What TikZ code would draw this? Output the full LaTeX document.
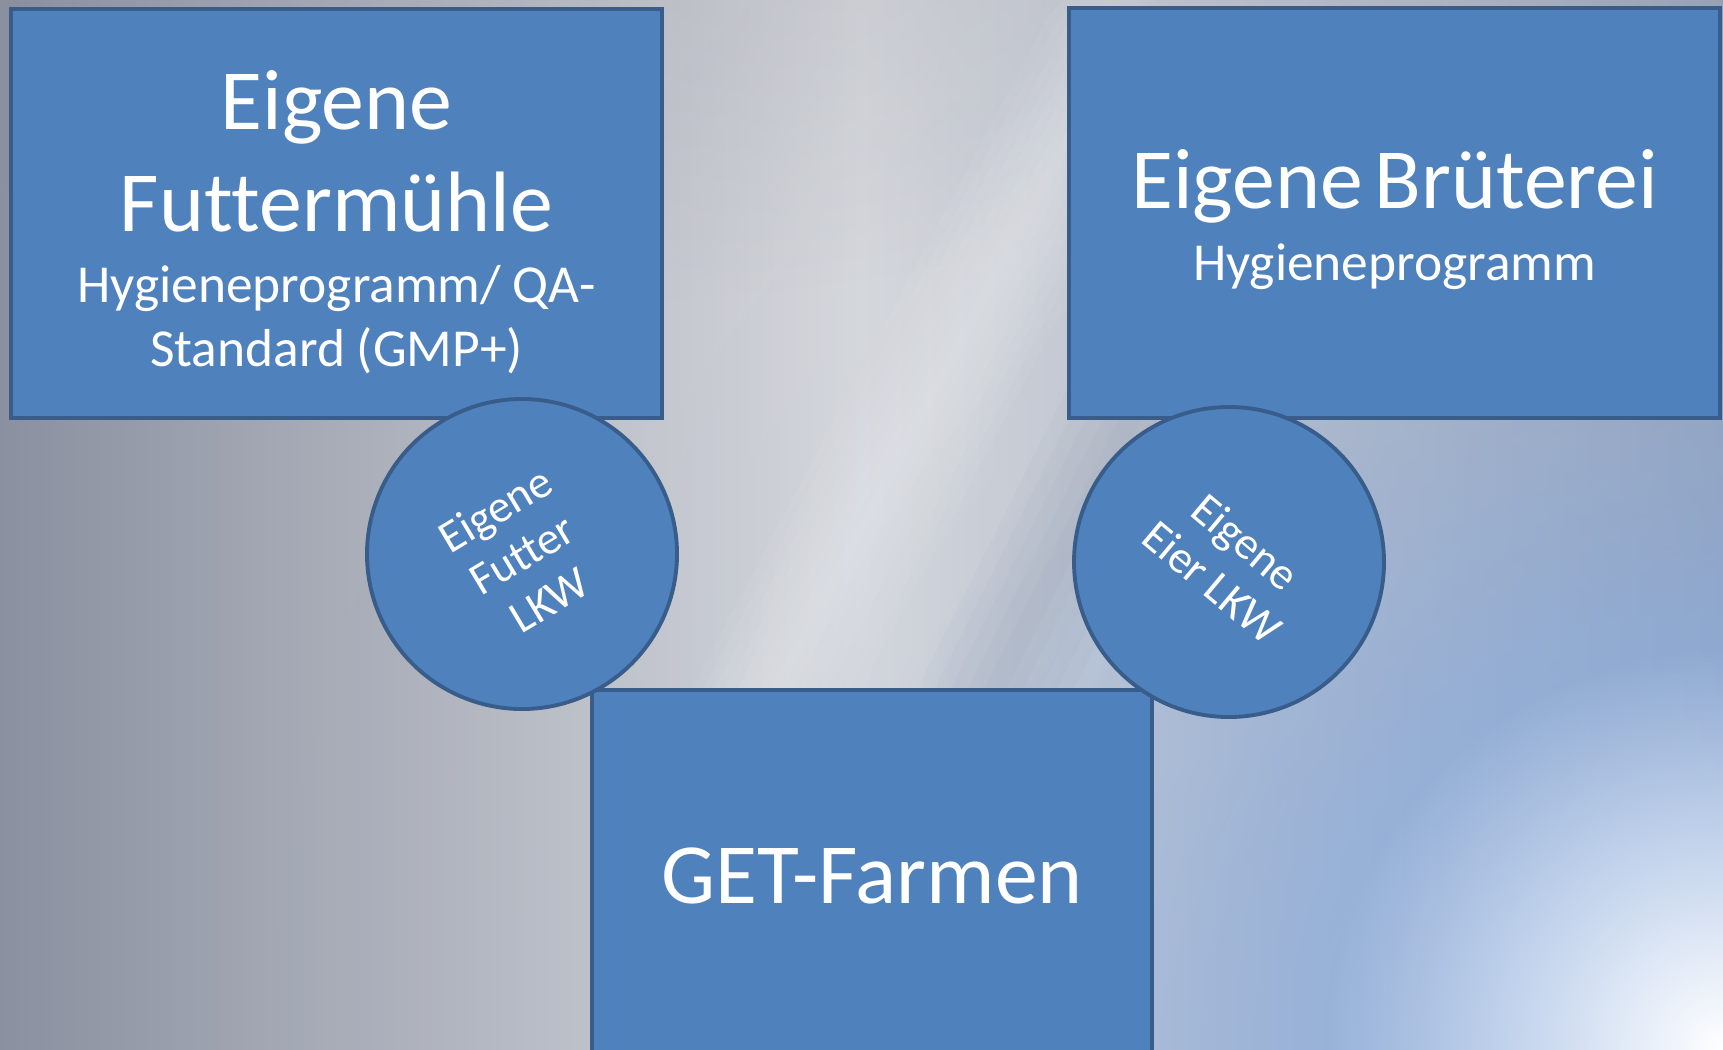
\documentclass[tikz,border=0pt]{standalone}
\usepackage{fontspec}
\setmainfont{Carlito}[Ligatures=NoCommon]
\usetikzlibrary{positioning, fadings}
\definecolor{boxfill}{HTML}{4F81BD}
\definecolor{boxstroke}{HTML}{385D8A}
\definecolor{bgleft}{HTML}{8A90A0}
\definecolor{bgmid}{HTML}{D8D9DC}
\definecolor{bgright}{HTML}{9AA2B3}
\definecolor{glow}{HTML}{88ADE3}
\tikzfading[name=glowfade, inner color=transparent!0, outer color=transparent!100]

\newcommand{\bigtxt}{\fontsize{24.4}{29}\selectfont}
\newcommand{\smalltxt}{\fontsize{15.2}{18.2}\selectfont}

\begin{document}
\begin{tikzpicture}[x=0.1mm, y=-0.1mm,
  box/.style={
    draw=boxstroke, line width=1.1pt, fill=boxfill,
    text=white, align=center, inner sep=0pt
  },
  truck/.style={
    circle, draw=boxstroke, line width=1.1pt, fill=boxfill,
    text=white, align=center, inner sep=0pt,
    minimum size=31mm, font=\fontsize{13}{15}\selectfont
  }
]

% background
\clip (0,0) rectangle (1723,1049);
\shade[left color=bgleft, right color=bgright, middle color=bgmid] (0,0) rectangle (1723,1049);
\fill[bgleft, opacity=0.25, path fading=glowfade] (600,-150) ellipse (900 and 450);
\foreach \w in {150,130,...,10}
  \draw[white, line width=\w*0.1mm, opacity=0.05, line cap=round] (1110,60) -- (760,720);
\foreach \w in {140,110,...,20}
  \draw[bgleft, line width=\w*0.1mm, opacity=0.05, line cap=round] (1200,280) -- (990,700);
\fill[glow, opacity=0.2, path fading=glowfade] (1760,1100) circle (1500);
\fill[glow, path fading=glowfade] (1680,1040) circle (850);
\fill[white, path fading=glowfade] (1723,1049) circle (400);

% boxes
\node[box, minimum width=65.1mm, minimum height=40.9mm, text width=62mm] (muehle) at (336.5,213.5) {%
  {\bigtxt Eigene\\ Futtermühle\par}\vspace{2.2pt}%
  {\smalltxt Hygieneprogramm/ QA-\\ Standard (GMP+)\par}\vspace{-1.76mm}};

\node[box, minimum width=65.1mm, minimum height=41mm, text width=62mm] (brueterei) at (1394.5,213) {%
  {\bigtxt Eigene Brüterei\par}\vspace{2.2pt}%
  {\smalltxt Hygieneprogramm\par}\vspace{-1.32mm}};

\node[box, minimum width=56mm, minimum height=37.2mm, font=\bigtxt] (farmen) at (872,876) {GET-Farmen};

% trucks
\node[truck, rotate=31] (futterlkw) at (522,554) {Eigene\\ Futter\\ LKW};
\node[truck, rotate=-40] (eierlkw) at (1229,562) {Eigene\\ Eier LKW};

\end{tikzpicture}
\end{document}
